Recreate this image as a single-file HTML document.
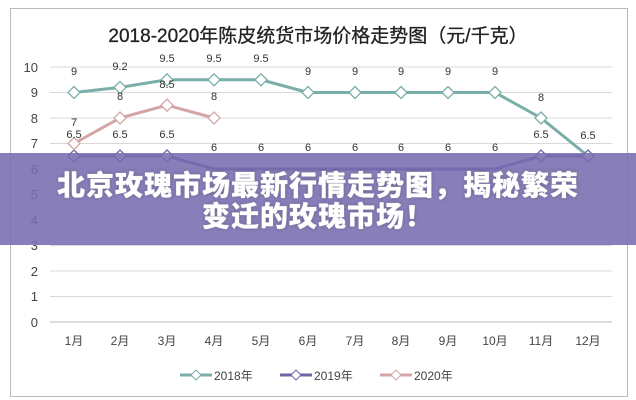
<!DOCTYPE html>
<html><head><meta charset="utf-8"><style>
body{margin:0;width:636px;height:400px;overflow:hidden;background:#fff;font-family:"Liberation Sans","Noto Sans CJK SC",sans-serif}
.ov{position:absolute;left:0;top:153px;width:636px;height:92px;background:rgba(120,108,175,0.88);color:#fff;font-weight:900;font-size:28px;letter-spacing:1px;text-align:center;line-height:31px;padding-top:17px;box-sizing:border-box;font-family:"Liberation Sans","Noto Sans CJK SC",sans-serif;text-shadow:0 0 1px #fff,0 0 3px rgba(0,0,0,.35)}
</style></head><body>
<svg width="636" height="400" style="position:absolute;left:0;top:0" font-family="Liberation Sans, Noto Sans CJK SC, sans-serif">
<rect x="10.5" y="8.5" width="617" height="388" fill="#fff" stroke="#bbb"/>
<text x="318" y="42" text-anchor="middle" font-size="19" fill="#222" stroke="#222" stroke-width="0.3">2018-2020年陈皮统货市场价格走势图（元/千克）</text>
<g stroke="#d9d9d9" stroke-width="1">
<line x1="50" x2="612" y1="67" y2="67"/><line x1="50" x2="612" y1="92.5" y2="92.5"/><line x1="50" x2="612" y1="118" y2="118"/><line x1="50" x2="612" y1="143.5" y2="143.5"/><line x1="50" x2="612" y1="169" y2="169"/><line x1="50" x2="612" y1="194.5" y2="194.5"/><line x1="50" x2="612" y1="220" y2="220"/><line x1="50" x2="612" y1="245.5" y2="245.5"/><line x1="50" x2="612" y1="271" y2="271"/><line x1="50" x2="612" y1="296.5" y2="296.5"/>
</g>
<line x1="50" x2="612" y1="322" y2="322" stroke="#bbb"/>
<g font-size="13" fill="#444" text-anchor="end">
<text x="38" y="72">10</text><text x="38" y="97">9</text><text x="38" y="123">8</text><text x="38" y="148">7</text><text x="38" y="174">6</text><text x="38" y="199">5</text><text x="38" y="225">4</text><text x="38" y="250">3</text><text x="38" y="276">2</text><text x="38" y="301">1</text><text x="38" y="327">0</text>
</g>
<g font-size="12" fill="#444" text-anchor="middle">
<text x="74" y="345">1月</text><text x="120" y="345">2月</text><text x="167" y="345">3月</text><text x="214" y="345">4月</text><text x="261" y="345">5月</text><text x="308" y="345">6月</text><text x="355" y="345">7月</text><text x="401" y="345">8月</text><text x="448" y="345">9月</text><text x="495" y="345">10月</text><text x="541" y="345">11月</text><text x="588" y="345">12月</text>
</g>
<g fill="#fff" stroke-width="1.3">
<polyline fill="none" stroke="#7aaea8" stroke-width="3" points="74,92.5 120,87.4 167,79.8 214,79.8 261,79.8 308,92.5 355,92.5 401,92.5 448,92.5 495,92.5 541,118 588,156"/>
<polyline fill="none" stroke="#6a67a3" stroke-width="3" points="74,156 120,156 167,156 214,169 261,169 308,169 355,169 401,169 448,169 495,169 541,156 588,156"/>
<polyline fill="none" stroke="#d4a5a6" stroke-width="3" points="74,143.5 120,118 167,105.2 214,118"/>
<g stroke="#7aaea8"><path d="M74 86.5l6 6-6 6-6-6z"/><path d="M120 81.4l6 6-6 6-6-6z"/><path d="M167 73.8l6 6-6 6-6-6z"/><path d="M214 73.8l6 6-6 6-6-6z"/><path d="M261 73.8l6 6-6 6-6-6z"/><path d="M308 86.5l6 6-6 6-6-6z"/><path d="M355 86.5l6 6-6 6-6-6z"/><path d="M401 86.5l6 6-6 6-6-6z"/><path d="M448 86.5l6 6-6 6-6-6z"/><path d="M495 86.5l6 6-6 6-6-6z"/><path d="M541 112l6 6-6 6-6-6z"/></g>
<g stroke="#6a67a3"><path d="M74 150l6 6-6 6-6-6z"/><path d="M120 150l6 6-6 6-6-6z"/><path d="M167 150l6 6-6 6-6-6z"/><path d="M541 150l6 6-6 6-6-6z"/><path d="M588 150l6 6-6 6-6-6z"/></g>
<g stroke="#d4a5a6"><path d="M74 137.5l6 6-6 6-6-6z"/><path d="M120 112l6 6-6 6-6-6z"/><path d="M167 99.2l6 6-6 6-6-6z"/><path d="M214 112l6 6-6 6-6-6z"/></g>
</g>
<g font-size="11" fill="#333" text-anchor="middle">
<text x="74" y="75">9</text><text x="120" y="70">9.2</text><text x="167" y="62">9.5</text><text x="214" y="62">9.5</text><text x="261" y="62">9.5</text><text x="308" y="75">9</text><text x="355" y="75">9</text><text x="401" y="75">9</text><text x="448" y="75">9</text><text x="495" y="75">9</text><text x="541" y="101">8</text><text x="588" y="139">6.5</text>
<text x="74" y="126">7</text><text x="120" y="100">8</text><text x="167" y="88">8.5</text><text x="214" y="100">8</text>
<text x="74" y="138">6.5</text><text x="120" y="138">6.5</text><text x="167" y="138">6.5</text><text x="541" y="138">6.5</text>
<text x="214" y="151">6</text><text x="261" y="151">6</text><text x="308" y="151">6</text><text x="355" y="151">6</text><text x="401" y="151">6</text><text x="448" y="151">6</text><text x="495" y="151">6</text>
</g>
<g font-size="12" fill="#444">
<line x1="180" x2="212" y1="375" y2="375" stroke="#7aaea8" stroke-width="3"/><path d="M196 370l5 5-5 5-5-5z" fill="#fff" stroke="#7aaea8"/><text x="214" y="380">2018年</text>
<line x1="280" x2="312" y1="375" y2="375" stroke="#6a67a3" stroke-width="3"/><path d="M296 370l5 5-5 5-5-5z" fill="#fff" stroke="#6a67a3"/><text x="314" y="380">2019年</text>
<line x1="380" x2="412" y1="375" y2="375" stroke="#d4a5a6" stroke-width="3"/><path d="M396 370l5 5-5 5-5-5z" fill="#fff" stroke="#d4a5a6"/><text x="414" y="380">2020年</text>
</g>
</svg>
<div class="ov">北京玫瑰市场最新行情走势图，揭秘繁荣<br>变迁的玫瑰市场！</div>
</body></html>
